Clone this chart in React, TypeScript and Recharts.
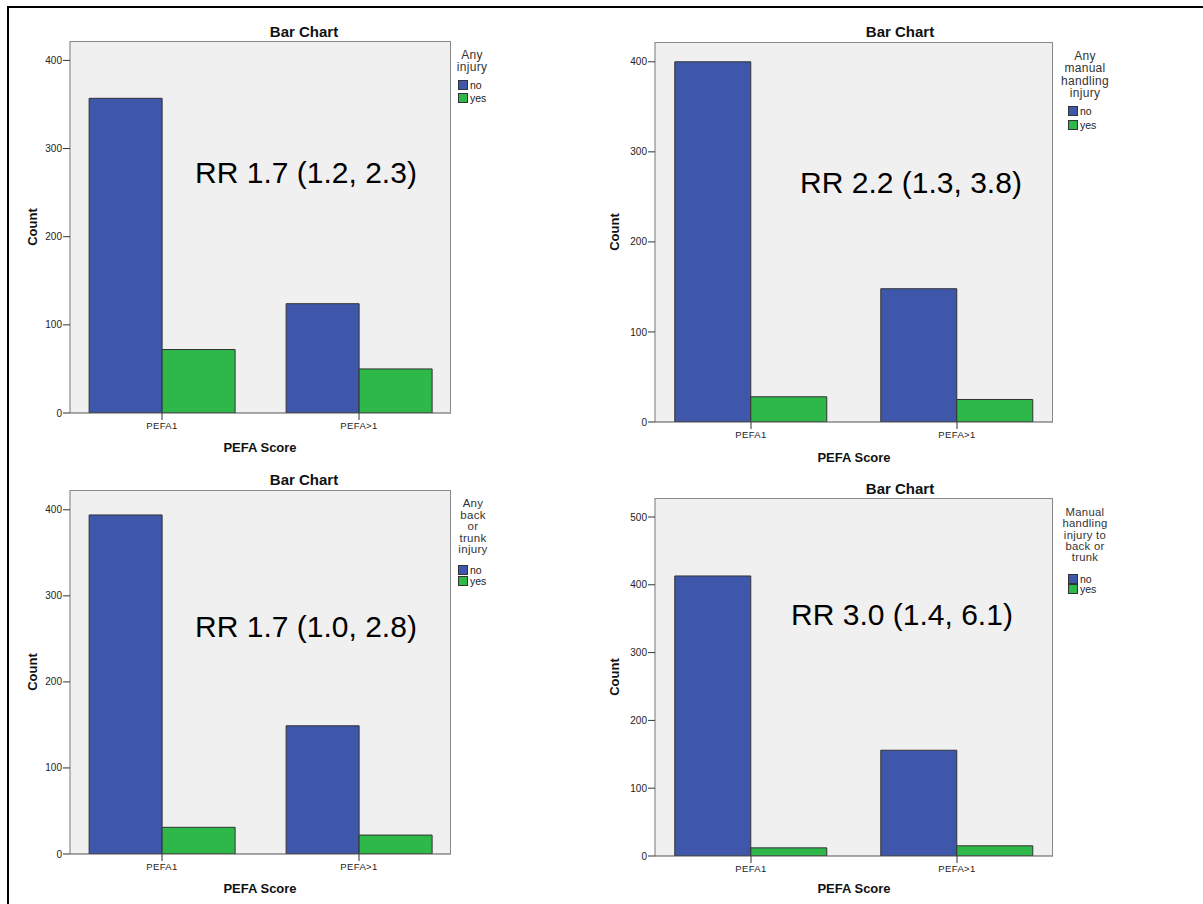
import React from 'react'
import { Bar, BarChart, CartesianGrid, XAxis, YAxis } from 'recharts'

// Four SPSS-style clustered bar charts: injury counts by PEFA score.

const categories = ['PEFA1', 'PEFA>1']

const anyInjuryNo = [357, 124]
const anyInjuryYes = [72, 50]

const manualNo = [400, 148]
const manualYes = [28, 25]

const backNo = [394, 149]
const backYes = [31, 22]

const manualBackNo = [413, 156]
const manualBackYes = [12, 15]

const ticks400 = [0, 100, 200, 300, 400]
const ticks500 = [0, 100, 200, 300, 400, 500]

const legendKeys = ['no', 'yes']

const BLUE = '#3E57AA'
const GREEN = '#2EB84A'
const FONT = '"Liberation Sans", Arial, sans-serif'

interface PanelSpec {
  title: string
  legendTitle: string[]
  note: string
  no: number[]
  yes: number[]
  max: number
  ticks: number[]
  // layout, page coordinates
  box: { x: number; y: number; w: number; h: number }
  plot: { l: number; t: number; r: number; b: number }
  titleAt: [number, number]
  noteAt: [number, number]
  countAt: [number, number]
  xLabelAt: [number, number]
  legend: { cx: number; top: number; lh: number; fs: number; boxX: number; rowY: number[] }
  pad: number
}

const panels: PanelSpec[] = [
  {
    title: 'Bar Chart',
    legendTitle: ['Any', 'injury'],
    note: 'RR 1.7 (1.2, 2.3)',
    no: anyInjuryNo,
    yes: anyInjuryYes,
    max: 422,
    ticks: ticks400,
    box: { x: 0, y: 0, w: 600, h: 450 },
    plot: { l: 70, t: 41, r: 451, b: 413 },
    titleAt: [304, 31],
    noteAt: [306, 173],
    countAt: [32, 227],
    xLabelAt: [260, 447],
    legend: { cx: 472, top: 49, lh: 12, fs: 12, boxX: 458, rowY: [84.5, 97.5] },
    pad: -6.5,
  },
  {
    title: 'Bar Chart',
    legendTitle: ['Any', 'manual', 'handling', 'injury'],
    note: 'RR 2.2 (1.3, 3.8)',
    no: manualNo,
    yes: manualYes,
    max: 422,
    ticks: ticks400,
    box: { x: 600, y: 0, w: 603, h: 460 },
    plot: { l: 655, t: 42, r: 1053, b: 422 },
    titleAt: [900, 31],
    noteAt: [911, 183],
    countAt: [614, 232],
    xLabelAt: [854, 457],
    legend: { cx: 1085, top: 50, lh: 12.3, fs: 12, boxX: 1068, rowY: [111, 125] },
    pad: -7,
  },
  {
    title: 'Bar Chart',
    legendTitle: ['Any', 'back', 'or', 'trunk', 'injury'],
    note: 'RR 1.7 (1.0, 2.8)',
    no: backNo,
    yes: backYes,
    max: 423,
    ticks: ticks400,
    box: { x: 0, y: 460, w: 600, h: 440 },
    plot: { l: 70, t: 490, r: 451, b: 854 },
    titleAt: [304, 479],
    noteAt: [306, 627],
    countAt: [32, 672],
    xLabelAt: [260, 888],
    legend: { cx: 473, top: 498, lh: 11.5, fs: 11.5, boxX: 458, rowY: [569.5, 580.5] },
    pad: -6.5,
  },
  {
    title: 'Bar Chart',
    legendTitle: ['Manual', 'handling', 'injury to', 'back or', 'trunk'],
    note: 'RR 3.0 (1.4, 6.1)',
    no: manualBackNo,
    yes: manualBackYes,
    max: 528,
    ticks: ticks500,
    box: { x: 600, y: 460, w: 603, h: 440 },
    plot: { l: 655, t: 498, r: 1053, b: 856 },
    titleAt: [900, 488],
    noteAt: [902, 615],
    countAt: [614, 677],
    xLabelAt: [854, 888],
    legend: { cx: 1085, top: 507, lh: 11.3, fs: 11.3, boxX: 1068, rowY: [578.5, 589] },
    pad: -7,
  },
]

const Y_AXIS_W = 40
const X_AXIS_H = 30

function centered(x: number, y: number, style: React.CSSProperties, text: string, key?: string) {
  return (
    <div
      key={key}
      style={{
        position: 'absolute',
        left: x,
        top: y,
        transform: 'translate(-50%, -50%)',
        whiteSpace: 'nowrap',
        fontFamily: FONT,
        ...style,
      }}
    >
      {text}
    </div>
  )
}

function Panel({ p }: { p: PanelSpec }) {
  const data = categories.map((cat, i) => ({ cat, no: p.no[i], yes: p.yes[i] }))
  const margin = {
    left: p.plot.l - p.box.x - Y_AXIS_W,
    right: p.box.x + p.box.w - p.plot.r,
    top: p.plot.t - p.box.y,
    bottom: p.box.y + p.box.h - p.plot.b - X_AXIS_H,
  }
  return (
    <>
      <div style={{ position: 'absolute', left: p.box.x, top: p.box.y }}>
        <BarChart
          width={p.box.w}
          height={p.box.h}
          data={data}
          margin={margin}
          barGap={0}
          barCategoryGap="13%"
        >
          <CartesianGrid fill="#F0F0F0" stroke="none" horizontal={false} vertical={false} />
          <XAxis
            dataKey="cat"
            height={X_AXIS_H}
            padding={{ left: p.pad, right: p.pad }}
            axisLine={{ stroke: '#555' }}
            tickLine={{ stroke: '#333' }}
            tickSize={7}
            tick={{ fontSize: 9.5, fill: '#222', fontFamily: FONT, letterSpacing: 0.4 }}
          />
          <YAxis
            width={Y_AXIS_W}
            domain={[0, p.max]}
            ticks={p.ticks}
            interval={0}
            allowDataOverflow
            axisLine={{ stroke: '#777' }}
            tickLine={{ stroke: '#333' }}
            tickSize={7}
            tickMargin={1}
            tick={{ fontSize: 10, fill: '#222', fontFamily: FONT }}
          />
          <Bar dataKey="no" fill={BLUE} stroke="#333" strokeWidth={1} isAnimationActive={false} />
          <Bar dataKey="yes" fill={GREEN} stroke="#333" strokeWidth={1} isAnimationActive={false} />
        </BarChart>
      </div>
      {/* plot frame, top and right edges */}
      <div
        style={{
          position: 'absolute',
          left: p.plot.l,
          top: p.plot.t,
          width: p.plot.r - p.plot.l,
          height: p.plot.b - p.plot.t,
          borderTop: '1px solid #888',
          borderRight: '1px solid #888',
          boxSizing: 'border-box',
          pointerEvents: 'none',
        }}
      />
      {centered(p.titleAt[0], p.titleAt[1], { fontSize: 15, fontWeight: 'bold', color: '#111' }, p.title)}
      {centered(p.noteAt[0], p.noteAt[1], { fontSize: 30, color: '#000' }, p.note)}
      {centered(
        p.countAt[0],
        p.countAt[1],
        { fontSize: 13, fontWeight: 'bold', color: '#111', transform: 'translate(-50%, -50%) rotate(-90deg)' },
        'Count'
      )}
      {centered(p.xLabelAt[0], p.xLabelAt[1], { fontSize: 13, fontWeight: 'bold', color: '#111' }, 'PEFA Score')}
      <div
        style={{
          position: 'absolute',
          left: p.legend.cx - 40,
          top: p.legend.top,
          width: 80,
          textAlign: 'center',
          fontFamily: FONT,
          fontSize: p.legend.fs,
          lineHeight: `${p.legend.lh}px`,
          letterSpacing: 0.3,
          color: '#333',
        }}
      >
        {p.legendTitle.map((line, i) => (
          <div key={i} style={{ height: p.legend.lh, whiteSpace: 'nowrap' }}>
            {line}
          </div>
        ))}
      </div>
      {legendKeys.map((k, i) => (
        <div
          key={k}
          style={{
            position: 'absolute',
            left: p.legend.boxX,
            top: p.legend.rowY[i] - 5,
            height: 10,
            lineHeight: '10px',
            display: 'flex',
            alignItems: 'center',
            fontFamily: FONT,
            fontSize: 10.5,
            color: '#222',
          }}
        >
          <span
            style={{
              display: 'inline-block',
              width: 8,
              height: 8,
              background: i === 0 ? BLUE : GREEN,
              border: '1px solid #333',
              marginRight: 2,
            }}
          />
          {k}
        </div>
      ))}
    </>
  )
}

export default function App() {
  return (
    <div
      style={{
        position: 'absolute',
        left: 0,
        top: 0,
        width: 1203,
        height: 904,
        background: '#fff',
        overflow: 'hidden',
      }}
    >
      <div
        style={{
          position: 'absolute',
          left: 7,
          top: 6,
          width: 1210,
          height: 910,
          borderLeft: '2px solid #000',
          borderTop: '2px solid #000',
        }}
      />
      {panels.map((p, i) => (
        <Panel key={i} p={p} />
      ))}
    </div>
  )
}
